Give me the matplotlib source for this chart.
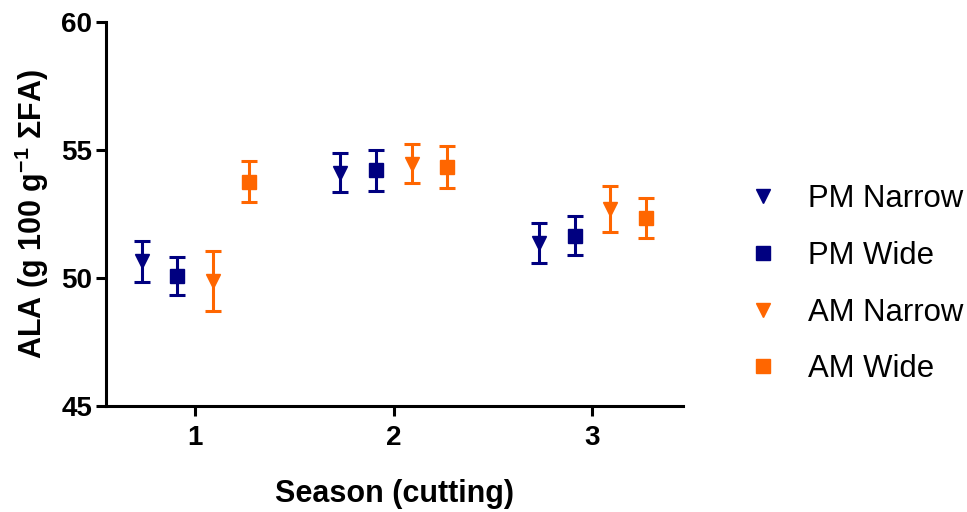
import numpy as np
import matplotlib
matplotlib.use("Agg")
import matplotlib.pyplot as plt

plt.rcParams["font.family"] = ["Liberation Sans", "DejaVu Sans"]
plt.rcParams["mathtext.fontset"] = "custom"
plt.rcParams["mathtext.rm"] = "Liberation Sans:bold"
plt.rcParams["mathtext.bf"] = "Liberation Sans:bold"
plt.rcParams["mathtext.default"] = "regular"

# ---- Data ----
seasons = [1, 2, 3]
series = ["PM Narrow", "PM Wide", "AM Narrow", "AM Wide"]
pm_narrow = [50.65, 54.12, 51.36]
pm_narrow_err = [0.80, 0.77, 0.79]
pm_wide = [50.08, 54.20, 51.66]
pm_wide_err = [0.75, 0.81, 0.78]
am_narrow = [49.90, 54.47, 52.71]
am_narrow_err = [1.17, 0.77, 0.90]
am_wide = [53.77, 54.33, 52.34]
am_wide_err = [0.79, 0.81, 0.79]

means = [pm_narrow, pm_wide, am_narrow, am_wide]
errs = [pm_narrow_err, pm_wide_err, am_narrow_err, am_wide_err]
offsets = [-0.27, -0.09, 0.09, 0.27]
colors = ["#000080", "#000080", "#FF6600", "#FF6600"]
markers = ["v", "s", "v", "s"]

fig = plt.figure(figsize=(9.67, 5.12), dpi=100)
ax = fig.add_axes([0.1096, 0.207, 0.5964, 0.750])

for name, m, e, off, c, mk in zip(series, means, errs, offsets, colors, markers):
    x = np.array(seasons) + off
    ax.errorbar(x, m, yerr=e, fmt=mk, color=c, ecolor=c, markersize=10.5,
                elinewidth=2.2, capsize=5.5, capthick=2.2, label=name)

ax.set_xlim(0.55, 3.455)
ax.set_ylim(45, 60)
ax.set_xticks(seasons)
ax.set_yticks([45, 50, 55, 60])

for s in ["top", "right"]:
    ax.spines[s].set_visible(False)
for s in ["left", "bottom"]:
    ax.spines[s].set_linewidth(2.2)

ax.tick_params(axis="both", width=2.2, length=7, labelsize=20)
ax.tick_params(axis="x", pad=7)
ax.tick_params(axis="y", pad=3)
for lbl in ax.get_xticklabels() + ax.get_yticklabels():
    lbl.set_fontweight("bold")

ax.set_xlabel("Season (cutting)", fontsize=22, fontweight="bold", labelpad=20)
ax.set_ylabel("ALA (g 100 g$^{-1}$ \u03a3FA)", fontsize=22, fontweight="bold", labelpad=7)

handles, labels = ax.get_legend_handles_labels()
handles = [h[0] for h in handles]
fig.legend(handles, labels, loc="center left", bbox_to_anchor=(0.757, 0.445),
           frameon=False, fontsize=22.4, handlelength=1.0, handletextpad=0.95,
           labelspacing=0.86, borderpad=0, markerscale=1.0)

fig.savefig("out.png", dpi=100)
plt.close(fig)
